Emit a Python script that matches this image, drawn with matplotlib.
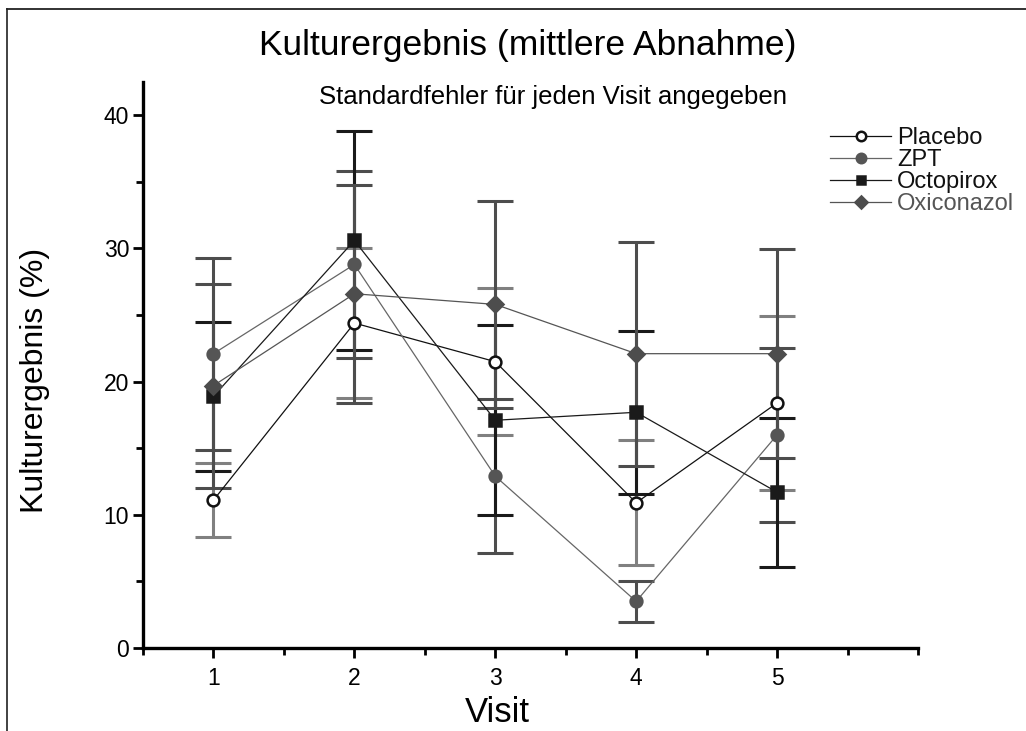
import matplotlib
matplotlib.use("Agg")
import matplotlib.pyplot as plt
from matplotlib.lines import Line2D
from matplotlib.ticker import MultipleLocator

plt.rcParams["font.family"] = ["Liberation Sans", "DejaVu Sans"]

# values (mean decrease and standard error per visit)
visits = [1, 2, 3, 4, 5]
placebo = [11.1, 24.4, 21.5, 10.9, 18.4]
placebo_se = [2.8, 5.65, 5.5, 4.7, 6.5]
zpt = [22.1, 28.8, 12.9, 3.5, 16.0]
zpt_se = [7.2, 7.05, 5.8, 1.55, 6.55]
octopirox = [18.9, 30.6, 17.1, 17.7, 11.7]
octopirox_se = [5.6, 8.2, 7.15, 6.1, 5.6]
oxiconazol = [19.7, 26.6, 25.8, 22.1, 22.1]
oxiconazol_se = [7.65, 8.2, 7.75, 8.4, 7.85]

series = [
    # label, values, se, marker, face, edge, line colour, errorbar colour, text colour
    ("Placebo", placebo, placebo_se, "o", "white", "#111111", "#111111", "#808080", "#111111"),
    ("ZPT", zpt, zpt_se, "o", "#555555", "#555555", "#666666", "#4d4d4d", "#111111"),
    ("Octopirox", octopirox, octopirox_se, "s", "#1a1a1a", "#1a1a1a", "#1a1a1a", "#1a1a1a", "#111111"),
    ("Oxiconazol", oxiconazol, oxiconazol_se, "D", "#4d4d4d", "#4d4d4d", "#555555", "#4d4d4d", "#555555"),
]

fig = plt.figure(figsize=(10.26, 7.31), dpi=100)
ax = fig.add_axes([143 / 1026, 1 - 648 / 731, (918 - 143) / 1026, (648 - 82) / 731])

for label, vals, se, mk, fc, ec, lc, errc, tc in series:
    ax.errorbar(visits, vals, yerr=se, fmt="none", ecolor=errc, elinewidth=2.2,
                capsize=13, capthick=2.2, zorder=2)

handles = []
for label, vals, se, mk, fc, ec, lc, errc, tc in series:
    ms = {"o": 8.5, "s": 8, "D": 8}[mk]
    h, = ax.plot(visits, vals, color=lc, lw=0.9, marker=mk, ms=ms,
                 mfc=fc, mec=ec, mew=1.8, zorder=3, label=label)
    handles.append(h)

ax.set_xlim(0.5, 6.0)
ax.set_ylim(0, 42.5)
ax.xaxis.set_minor_locator(MultipleLocator(0.5))
ax.yaxis.set_major_locator(MultipleLocator(10))
ax.yaxis.set_minor_locator(MultipleLocator(5))
ax.set_xticks(visits)
ax.set_xticklabels([str(v) for v in visits])
for s in ["top", "right"]:
    ax.spines[s].set_visible(False)
for s in ["left", "bottom"]:
    ax.spines[s].set_linewidth(2.4)
ax.tick_params(which="major", length=7, width=2, labelsize=16.5, direction="out")
ax.tick_params(which="minor", length=5, width=2, direction="out")
ax.tick_params(axis="x", pad=7)
ax.tick_params(axis="y", pad=3)

leg = fig.legend(handles=handles, loc="upper left", bbox_to_anchor=(830 / 1026, 1 - 127 / 731),
                 frameon=False, fontsize=17, handlelength=2.6, handletextpad=0.25,
                 labelspacing=0.0, borderpad=0, borderaxespad=0, markerscale=0.8)
for txt, s in zip(leg.get_texts(), series):
    txt.set_color(s[8])

fig.text(528 / 1026, 1 - 45 / 731, "Kulturergebnis (mittlere Abnahme)", ha="center", va="center", fontsize=25.5)
fig.text(553 / 1026, 1 - 97 / 731, "Standardfehler für jeden Visit angegeben", ha="center", va="center", fontsize=18.5)
fig.text(35 / 1026, 1 - 380 / 731, "Kulturergebnis (%)", rotation=90, ha="center", va="center", fontsize=23)
fig.text(497 / 1026, 1 - 713 / 731, "Visit", ha="center", va="center", fontsize=25)

# thin frame around the figure (top and left edges only are visible)
fig.add_artist(Line2D([7 / 1026, 7 / 1026], [0, 1 - 9 / 731], transform=fig.transFigure, color="#333333", lw=1.3))
fig.add_artist(Line2D([7 / 1026, 1], [1 - 9 / 731, 1 - 9 / 731], transform=fig.transFigure, color="#222222", lw=1.3))

fig.savefig("out.png", dpi=100)
